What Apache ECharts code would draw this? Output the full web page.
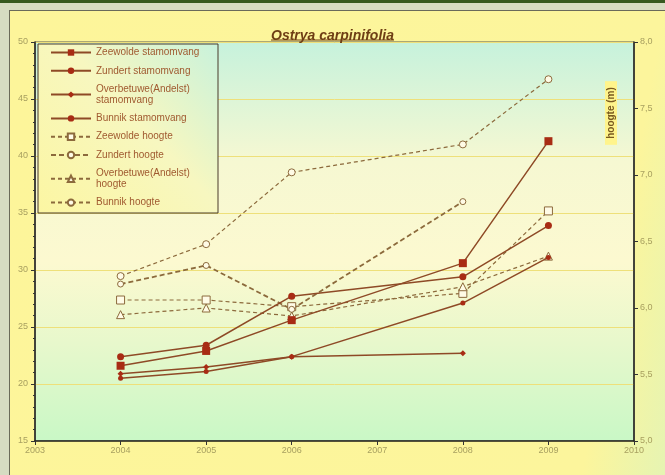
<!DOCTYPE html>
<html>
<head>
<meta charset="utf-8">
<script src="https://cdn.jsdelivr.net/npm/echarts@6/dist/echarts.min.js"></script>
<style>
  html, body { margin: 0; padding: 0; }
  #wrap { position: relative; width: 665px; height: 475px; background: #d6dcc2; overflow: hidden; }
  #band { position: absolute; left: 0; top: 0; width: 665px; height: 3px; background: #36591f; }
  #area { position: absolute; left: 9px; top: 10px; width: 660px; height: 470px;
          background: linear-gradient(100deg, #fdf59a 0%, #fcf59c 88%, #e4f4b4 100%);
          border-left: 1px solid #6a6a5a; border-top: 1px solid #6a6a5a; }
  #chart { position: absolute; left: 0; top: 0; width: 665px; height: 475px; }
</style>
</head>
<body>
<div id="wrap">
  <div id="band"></div>
  <div id="area"></div>
  <div id="chart"></div>
</div>
<script>
const years = [2004, 2005, 2006, 2008, 2009];
const seriesNames = [
  'Zeewolde stamomvang', 'Zundert stamomvang', 'Overbetuwe(Andelst) stamomvang', 'Bunnik stamomvang',
  'Zeewolde hoogte', 'Zundert hoogte', 'Overbetuwe(Andelst) hoogte', 'Bunnik hoogte'
];
const zeewoldeStam = [21.6, 22.9, 25.6, 30.6, 41.3];
const zundertStam = [22.4, 23.4, 27.7, 29.4, 33.9];
const overbetuweStam = [20.9, 21.5, 22.4, 22.7, null];
const bunnikStam = [20.5, 21.1, 22.4, 27.1, 31.1];
const zeewoldeHoogte = [6.06, 6.06, 6.01, 6.11, 6.73];
const zundertHoogte = [6.18, 6.32, 5.99, 6.80, null];
const overbetuweHoogte = [5.95, 6.00, 5.94, 6.16, 6.39];
const bunnikHoogte = [6.24, 6.48, 7.02, 7.23, 7.72];
const xTicks = [2003, 2004, 2005, 2006, 2007, 2008, 2009, 2010];

function pairs(vals) { return years.map((y, i) => [y, vals[i]]); }

const stamLine = '#8e4a26';
const stamMark = '#a82c14';
const hoogLine = '#8c6a3c';
const openFill = '#fffbe6';
const labelColor = '#a8a060';

function stam(name, vals, symbol, size) {
  return {
    name, type: 'line', yAxisIndex: 0, data: pairs(vals),
    symbol, symbolSize: size, showSymbol: true,
    lineStyle: { color: stamLine, width: 1.5 },
    itemStyle: { color: stamMark, borderColor: stamMark, borderWidth: 0 },
    emphasis: { disabled: true }, z: 3
  };
}
function hoog(name, vals, symbol, size, width, dash) {
  return {
    name, type: 'line', yAxisIndex: 1, data: pairs(vals),
    symbol, symbolSize: size, showSymbol: true,
    lineStyle: { color: hoogLine, width: width, type: dash },
    itemStyle: { color: openFill, borderColor: hoogLine, borderWidth: 1 },
    emphasis: { disabled: true }, z: 2
  };
}

const chart = echarts.init(document.getElementById('chart'), null, { renderer: 'canvas' });
chart.setOption({
  backgroundColor: 'transparent',
  animation: false,
  title: {
    text: 'Ostrya carpinifolia', left: 'center', top: 24,
    textStyle: { fontFamily: 'Liberation Sans', fontSize: 14, fontStyle: 'italic', fontWeight: 'bold', color: '#6e3e14' }
  },
  grid: {
    left: 35, right: 31, top: 42, bottom: 34, show: true,
    borderColor: '#5a5a50', borderWidth: 1,
    backgroundColor: new echarts.graphic.LinearGradient(0, 0, 0, 1, [
      { offset: 0, color: '#c6f2dc' },
      { offset: 0.3, color: '#f6f8d2' },
      { offset: 0.55, color: '#fcf9d0' },
      { offset: 0.75, color: '#e8f8cc' },
      { offset: 1, color: '#c9f8c6' }
    ])
  },
  legend: {
    orient: 'vertical', left: 50, top: 47,
    itemWidth: 40, itemHeight: 8, itemGap: 7.3,
    padding: 0,
    data: seriesNames,
    formatter: function (n) { return n.replace('(Andelst) ', '(Andelst)\n'); },
    textStyle: { fontFamily: 'Liberation Sans', fontSize: 10, color: '#a05a30', lineHeight: 11 },
    selectedMode: false
  },
  xAxis: {
    type: 'value', min: xTicks[0], max: xTicks[xTicks.length - 1], interval: 1,
    axisLine: { show: true, lineStyle: { color: '#222', width: 1.5 } },
    axisTick: { show: true, length: 4, lineStyle: { color: '#333' } },
    axisLabel: { color: labelColor, fontSize: 9, fontFamily: 'Liberation Sans', margin: 5, formatter: v => String(v) },
    splitLine: { show: false }
  },
  yAxis: [
    {
      type: 'value', min: 15, max: 50, interval: 5, position: 'left',
      axisLine: { show: true, lineStyle: { color: '#222', width: 1.5 } },
      axisTick: { show: true, length: 4, lineStyle: { color: '#333' } },
      minorTick: { show: true, splitNumber: 5, length: 2, lineStyle: { color: '#333' } },
      axisLabel: { color: labelColor, fontSize: 9, fontFamily: 'Liberation Sans', margin: 7 },
      splitLine: { show: true, lineStyle: { color: '#eee07a', width: 1 } }
    },
    {
      type: 'value', min: 5, max: 8, interval: 0.5, position: 'right',
      axisLine: { show: true, lineStyle: { color: '#222', width: 1.5 } },
      axisTick: { show: true, length: 4, lineStyle: { color: '#333' } },
      axisLabel: { color: labelColor, fontSize: 9, fontFamily: 'Liberation Sans', margin: 6,
                   formatter: v => v.toFixed(1).replace('.', ',') },
      splitLine: { show: false }
    }
  ],
  graphic: [
    {
      type: 'rect', z: 1, silent: true,
      shape: { x: 38, y: 44, width: 180, height: 169 },
      style: {
        fill: new echarts.graphic.LinearGradient(0, 1, 1, 0, [
          { offset: 0, color: '#fcf6a2' },
          { offset: 0.55, color: '#f7f7c0' },
          { offset: 1, color: '#c8f2dc' }
        ]),
        stroke: '#4a3a2a', lineWidth: 1
      }
    },
    {
      type: 'line', z: 5, silent: true,
      shape: { x1: 271, y1: 40, x2: 394, y2: 40 },
      style: { stroke: '#6e3e14', lineWidth: 1 }
    },
    {
      type: 'text', z: 5, silent: true, x: 611, y: 113, rotation: Math.PI / 2,
      style: {
        text: 'hoogte (m)', align: 'center', verticalAlign: 'middle',
        fontFamily: 'Liberation Sans', fontSize: 10, fontWeight: 'bold', fill: '#7a5a20',
        backgroundColor: '#fff48c', padding: [1, 6]
      }
    }
  ],
  series: [
    stam(seriesNames[0], zeewoldeStam, 'rect', 8),
    stam(seriesNames[1], zundertStam, 'circle', 7),
    stam(seriesNames[2], overbetuweStam, 'diamond', 6),
    stam(seriesNames[3], bunnikStam, 'circle', 5),
    hoog(seriesNames[4], zeewoldeHoogte, 'rect', 8, 1.2, [4, 3]),
    hoog(seriesNames[5], zundertHoogte, 'circle', 6, 1.8, [5, 3]),
    hoog(seriesNames[6], overbetuweHoogte, 'triangle', 8, 1.2, [4, 3]),
    hoog(seriesNames[7], bunnikHoogte, 'circle', 7, 1.2, [4, 3])
  ]
});
</script>
</body>
</html>
